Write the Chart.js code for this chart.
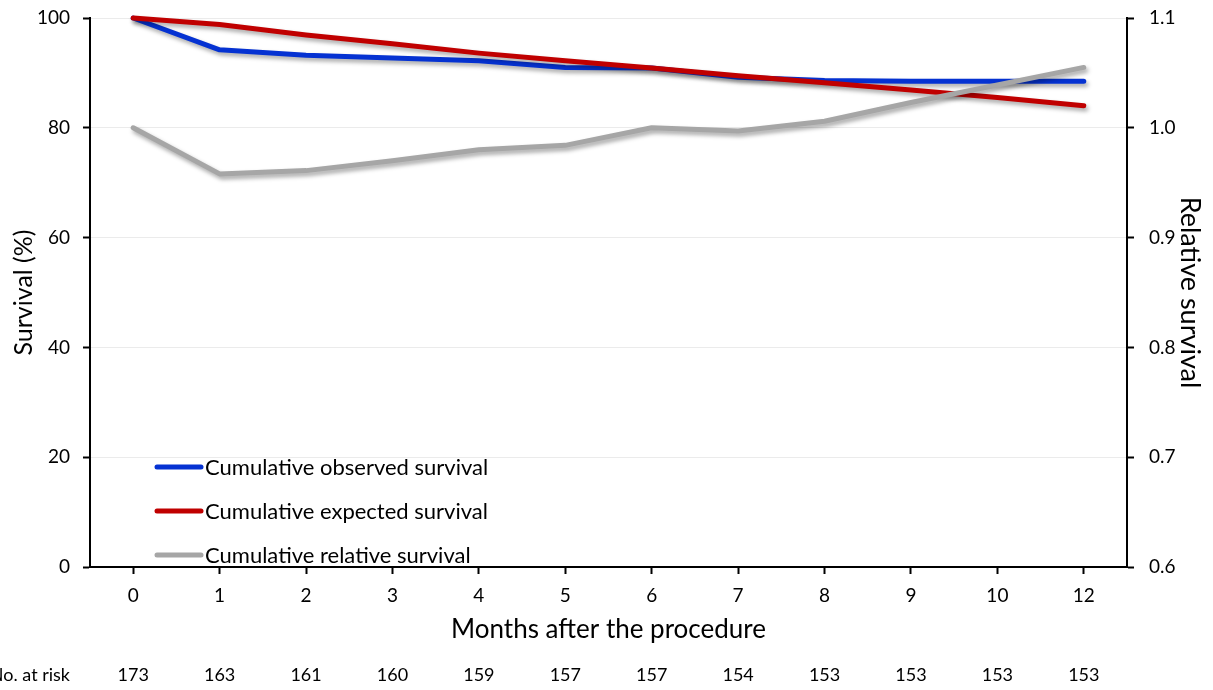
<!DOCTYPE html>
<html>
<head>
<meta charset="utf-8">
<script src="https://cdn.jsdelivr.net/npm/chart.js@4.4.0/dist/chart.umd.min.js"></script>
<style>
  html, body { margin: 0; padding: 0; background: #fff; }
  canvas { display: block; }
</style>
</head>
<body>
<canvas id="survivalChart" width="1213" height="690"></canvas>
<script>
// values
const months = ['0', '1', '2', '3', '4', '5', '6', '7', '8', '9', '10', '12'];
const observed = [100, 94.2, 93.2, 92.7, 92.2, 91.0, 90.9, 89.2, 88.6, 88.5, 88.5, 88.5];
const expected = [100, 98.8, 96.9, 95.3, 93.6, 92.2, 90.9, 89.5, 88.2, 86.9, 85.5, 84.0];
const relative = [1.000, 0.958, 0.961, 0.970, 0.980, 0.984, 1.000, 0.997, 1.006, 1.023, 1.039, 1.055];
const atRisk = [173, 163, 161, 160, 159, 157, 157, 154, 153, 153, 153, 153];

const FONT = 'Lato, "Open Sans", sans-serif';
const ctx = document.getElementById('survivalChart').getContext('2d');

// soft drop shadow under the lines
const shadowPlugin = {
    id: 'shadow',
    beforeDatasetsDraw(chart) {
        const c = chart.ctx;
        c.save();
        c.shadowColor = 'rgba(0,0,0,0.35)';
        c.shadowBlur = 4;
        c.shadowOffsetX = 2;
        c.shadowOffsetY = 3;
    },
    afterDatasetsDraw(chart) {
        chart.ctx.restore();
    }
};

// legend inside the plot, lower left
const innerLegend = {
    id: 'innerLegend',
    afterDraw(chart) {
        const c = chart.ctx;
        const x0 = 157, x1 = 201, yStart = 467, gap = 44;
        c.save();
        c.font = '22px ' + FONT;
        c.textBaseline = 'middle';
        c.textAlign = 'left';
        chart.data.datasets.forEach((ds, i) => {
            const y = yStart + i * gap;
            c.strokeStyle = ds.borderColor;
            c.lineWidth = 5;
            c.lineCap = 'round';
            c.beginPath();
            c.moveTo(x0, y);
            c.lineTo(x1, y);
            c.stroke();
            c.fillStyle = '#000';
            c.fillText(ds.label, 205, y + 1);
        });
        c.restore();
    }
};

// number at risk row under the x axis
const riskRow = {
    id: 'riskRow',
    afterDraw(chart) {
        const c = chart.ctx;
        const xs = chart.scales.x;
        const y = 675;
        c.save();
        c.font = '18px ' + FONT;
        c.fillStyle = '#000';
        c.textBaseline = 'middle';
        c.textAlign = 'right';
        c.fillText('No. at risk', 70, y);
        c.textAlign = 'center';
        atRisk.forEach((n, i) => {
            c.fillText(String(n), xs.getPixelForValue(i), y);
        });
        c.restore();
    }
};

const chart = new Chart(ctx, {
    type: 'line',
    data: {
        labels: months,
        datasets: [
            {
                label: 'Cumulative observed survival',
                data: observed,
                yAxisID: 'y',
                borderColor: '#0532d2',
                order: 2
            },
            {
                label: 'Cumulative expected survival',
                data: expected,
                yAxisID: 'y',
                borderColor: '#c00000',
                order: 1
            },
            {
                label: 'Cumulative relative survival',
                data: relative,
                yAxisID: 'y1',
                borderColor: '#a6a6a6',
                order: 0
            }
        ]
    },
    plugins: [shadowPlugin, innerLegend, riskRow],
    options: {
        responsive: false,
        animation: false,
        layout: { padding: { top: 18, bottom: 45, left: 0, right: 0 } },
        elements: {
            line: { borderWidth: 5, tension: 0, borderCapStyle: 'round', borderJoinStyle: 'round' },
            point: { radius: 0 }
        },
        datasets: { line: { clip: false } },
        plugins: {
            legend: { display: false },
            tooltip: { enabled: false }
        },
        scales: {
            x: {
                type: 'category',
                offset: true,
                afterFit(scale) {
                    scale.height = 78;
                    scale.paddingLeft = 0;
                    scale.paddingRight = 0;
                },
                border: { color: '#000', width: 2 },
                grid: { drawOnChartArea: false, tickColor: '#000', tickLength: 7, tickWidth: 2 },
                ticks: { color: '#000', font: { family: FONT, size: 19 }, padding: 10, maxRotation: 0 },
                title: {
                    display: true,
                    text: 'Months after the procedure',
                    color: '#000',
                    font: { family: FONT, size: 26 },
                    padding: 0
                }
            },
            y: {
                position: 'left',
                min: 0,
                max: 100,
                afterFit(scale) {
                    scale.width = 90;
                    scale.paddingTop = 0;
                    scale.paddingBottom = 0;
                },
                border: { color: '#000', width: 2 },
                grid: { color: '#ebebeb', lineWidth: 1, tickColor: '#000', tickLength: 7, tickWidth: 2 },
                ticks: { stepSize: 20, color: '#000', font: { family: FONT, size: 19 }, padding: 13 },
                title: {
                    display: true,
                    text: 'Survival (%)',
                    color: '#000',
                    font: { family: FONT, size: 25 },
                    padding: { top: 9, bottom: 0 }
                }
            },
            y1: {
                position: 'right',
                min: 0.6,
                max: 1.1,
                afterFit(scale) {
                    scale.width = 86;
                    scale.paddingTop = 0;
                    scale.paddingBottom = 0;
                },
                border: { color: '#000', width: 2 },
                grid: { drawOnChartArea: false, tickColor: '#000', tickLength: 7, tickWidth: 2 },
                ticks: {
                    stepSize: 0.1,
                    color: '#000',
                    font: { family: FONT, size: 19 },
                    padding: 15,
                    callback: v => v.toFixed(1)
                },
                title: {
                    display: true,
                    text: 'Relative survival',
                    color: '#000',
                    font: { family: FONT, size: 27 },
                    padding: { top: 7, bottom: 0 }
                }
            }
        }
    }
});
</script>
</body>
</html>
